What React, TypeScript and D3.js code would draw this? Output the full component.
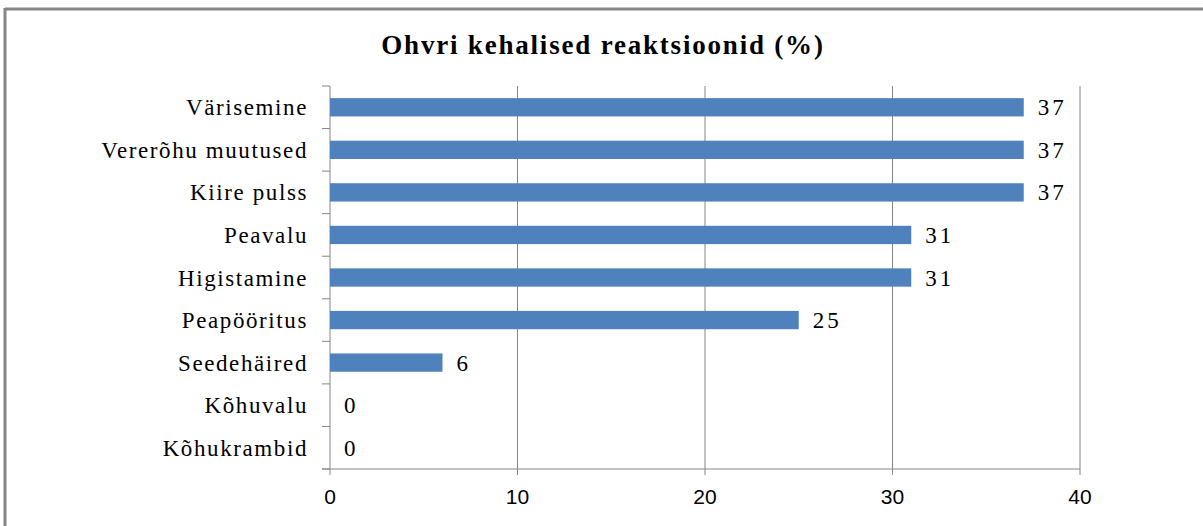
import React from "react";
import * as d3 from "d3";

// chart data
const categories = [
  "Värisemine",
  "Vererõhu muutused",
  "Kiire pulss",
  "Peavalu",
  "Higistamine",
  "Peapööritus",
  "Seedehäired",
  "Kõhuvalu",
  "Kõhukrambid",
];
const values = [37, 37, 37, 31, 31, 25, 6, 0, 0];
const xTicks = [0, 10, 20, 30, 40];
const title = "Ohvri kehalised reaktsioonid (%)";

const width = 1203;
const height = 526;
const margin = { top: 86, right: 123, bottom: 57, left: 330 };

const serif = "'Liberation Serif', 'Times New Roman', serif";
const sans = "'Liberation Sans', Arial, sans-serif";
const grey = "#868686";
const barColor = "#4f81bd";

const App = () => {
  // x and y scales
  const x = d3
    .scaleLinear()
    .domain([0, 40])
    .range([margin.left, width - margin.right]);
  const y = d3
    .scaleBand()
    .domain(categories)
    .range([margin.top, height - margin.bottom])
    .paddingInner(0.57)
    .paddingOuter(0.285);

  const step = y.step();
  const y0 = margin.top;
  const y1 = height - margin.bottom;

  return (
    <svg
      width={width}
      height={height}
      style={{ position: "absolute", left: 0, top: 0, background: "#fff" }}
    >
      {/* outer frame, only top and left visible */}
      <line x1={5} x2={width} y1={9} y2={9} stroke={grey} strokeWidth={3} />
      <line x1={5} x2={5} y1={8} y2={height} stroke={grey} strokeWidth={3} />

      <text
        x={603}
        y={54}
        textAnchor="middle"
        fontFamily={serif}
        fontWeight="bold"
        fontSize={27}
        letterSpacing={1.8}
      >
        {title}
      </text>

      {/* vertical gridlines */}
      {xTicks.slice(1).map((t) => (
        <line
          key={"g" + t}
          x1={x(t)}
          x2={x(t)}
          y1={y0}
          y2={y1 + 6}
          stroke={grey}
          strokeWidth={1}
        />
      ))}

      {/* y axis line and ticks */}
      <line x1={x(0)} x2={x(0)} y1={y0} y2={y1 + 6} stroke={grey} />
      {d3.range(categories.length + 1).map((i) => (
        <line
          key={"yt" + i}
          x1={x(0) - 8}
          x2={x(0)}
          y1={y0 + i * step}
          y2={y0 + i * step}
          stroke={grey}
        />
      ))}
      {/* x axis line */}
      <line x1={x(0) - 8} x2={x(40)} y1={y1} y2={y1} stroke={grey} />

      {/* bars */}
      {categories.map((c, i) => (
        <rect
          key={c}
          x={x(0)}
          y={y(c)}
          width={x(values[i]) - x(0)}
          height={y.bandwidth()}
          fill={barColor}
        />
      ))}

      {/* value labels */}
      {categories.map((c, i) => (
        <text
          key={"v" + c}
          x={x(values[i]) + 14}
          y={(y(c) ?? 0) + y.bandwidth() / 2}
          dy="0.35em"
          fontFamily={serif}
          fontSize={23}
          letterSpacing={3}
        >
          {values[i]}
        </text>
      ))}

      {/* category labels */}
      {categories.map((c) => (
        <text
          key={"c" + c}
          x={308}
          y={(y(c) ?? 0) + y.bandwidth() / 2}
          dy="0.35em"
          textAnchor="end"
          fontFamily={serif}
          fontSize={23}
          letterSpacing={1.6}
        >
          {c}
        </text>
      ))}

      {/* x tick labels */}
      {xTicks.map((t) => (
        <text
          key={"x" + t}
          x={x(t)}
          y={497}
          dy="0.35em"
          textAnchor="middle"
          fontFamily={sans}
          fontSize={21}
        >
          {t}
        </text>
      ))}
    </svg>
  );
};

export default App;
